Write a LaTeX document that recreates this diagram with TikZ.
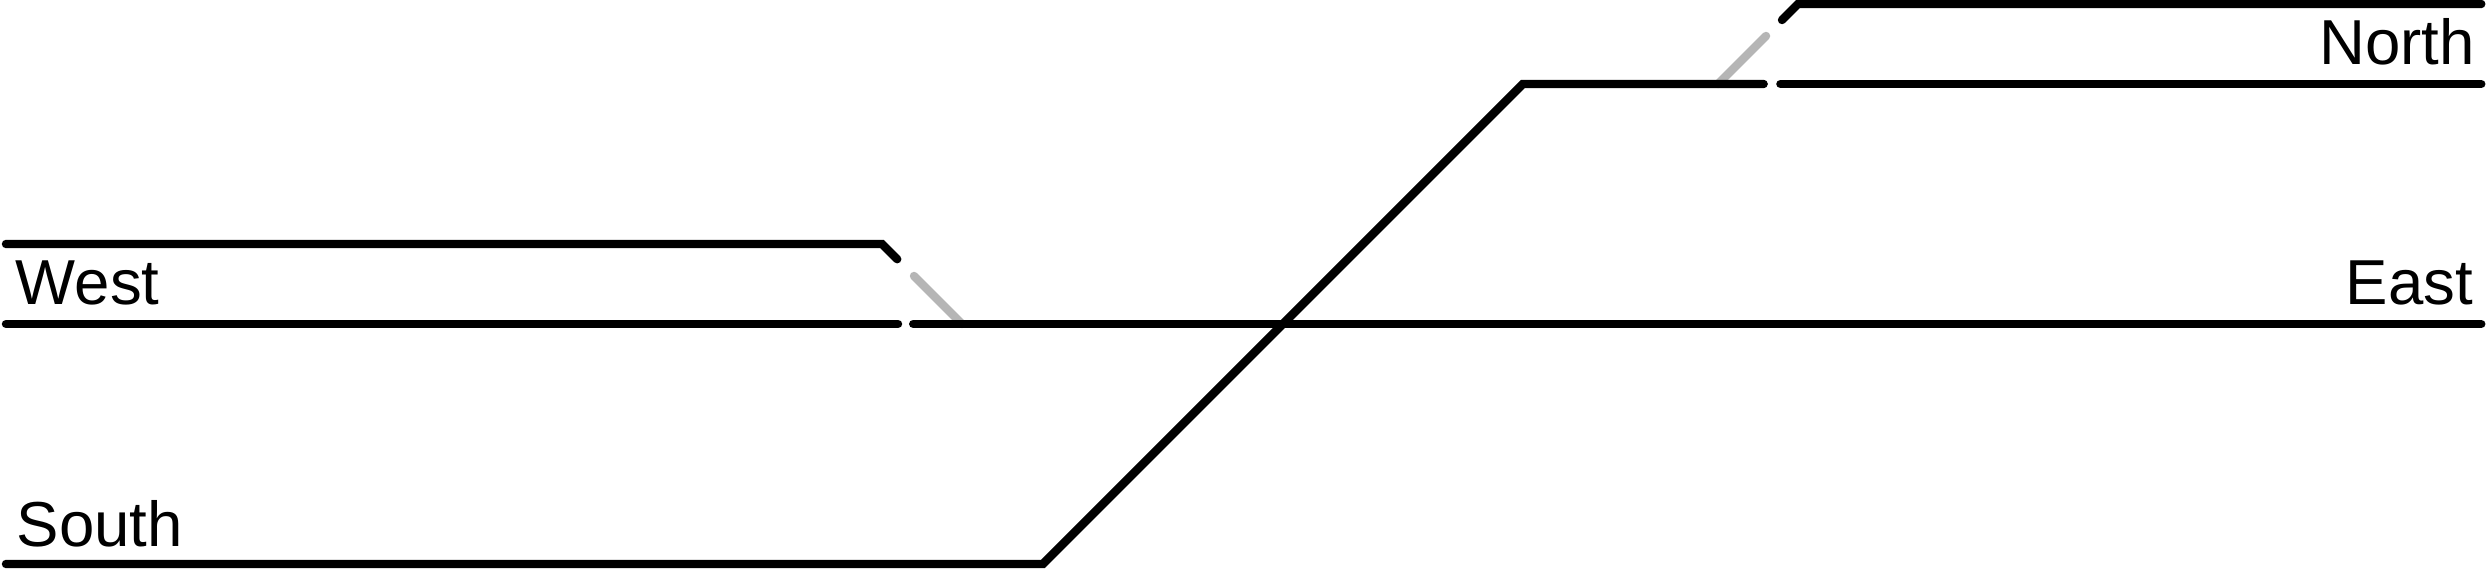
\documentclass[tikz,border=0pt]{standalone}
\usepackage{fontspec}
\setmainfont{Liberation Sans}
\usepackage{tikz}

\begin{document}
\begin{tikzpicture}[x=0.5cm,y=0.5cm,
  track/.style={line width=1.5pt,line cap=round},
  blade/.style={track,black!29},
  lbl/.style={inner sep=0pt,font=\fontsize{11.3pt}{13pt}\selectfont}]
\useasboundingbox(-0.075,-0.05)rectangle(31.0375,7.05);
% switch blades
\draw[blade](11.35,3.6)--(11.95,3);
\draw[blade](21.4,6)--(22,6.6);
% tracks
\draw[track](0,3)--(11.15,3);
\draw[track](11.34,3)--(30.94,3);
\draw[track](0,4)--(10.95,4)--(11.14,3.81);
\draw[track](0,0)--(12.96,0)--(18.96,6)--(21.97,6);
\draw[track](22.18,6)--(30.94,6);
\draw[track](22.2,6.8)--(22.4,7)--(30.94,7);
% labels
\node[lbl,anchor=base west](west)at(0.11,3.24){West};
\node[lbl,anchor=base east](east)at(30.85,3.24){East};
\node[lbl,anchor=base west](south)at(0.12,0.225){South};
\node[lbl,anchor=base east](north)at(30.87,6.24){North};
\end{tikzpicture}
\end{document}
